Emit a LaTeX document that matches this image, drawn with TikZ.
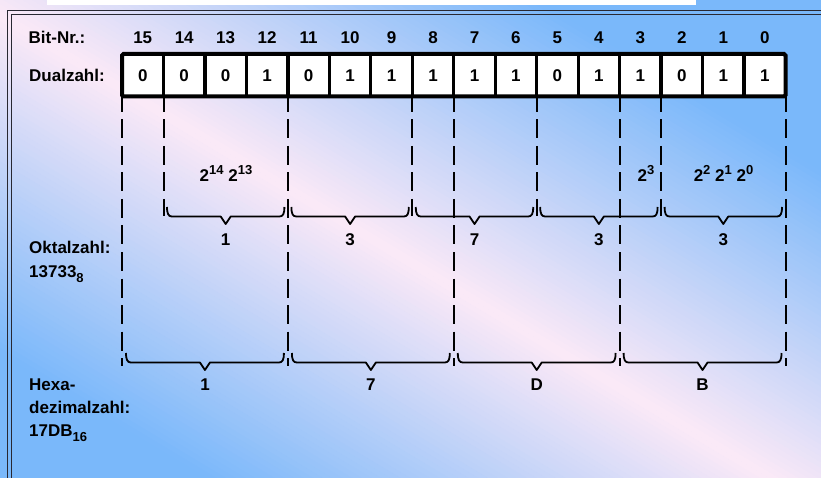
\documentclass[tikz,border=0pt]{standalone}
\usepackage{fontspec}
\setmainfont{Liberation Sans}
\definecolor{bgblue}{RGB}{122,184,250}
\definecolor{bgpink}{RGB}{251,233,247}
\definecolor{frameclr}{RGB}{40,40,50}
\newcommand\supx[1]{\raisebox{7.5pt}{\fontsize{13}{13}\selectfont #1}}
\newcommand\subx[1]{\raisebox{-5pt}{\fontsize{13}{13}\selectfont #1}}
\newcommand\bracepath[3]{%
  \draw[bracestyle] (#1,#3) .. controls (#1,{#3+7}) and ({#1+1.5},{#3+9.5}) .. ({#1+5},{#3+9.5})
    -- ({(#1+#2)/2-5},{#3+9.5}) -- ({(#1+#2)/2},{#3+17}) -- ({(#1+#2)/2+5},{#3+9.5})
    -- ({#2-5},{#3+9.5}) .. controls ({#2-1.5},{#3+9.5}) and (#2,{#3+7}) .. (#2,#3);}
\begin{document}
\begin{tikzpicture}[x=1pt,y=-1pt,
  lbl/.style={font=\fontsize{17}{20}\selectfont\bfseries, inner sep=0pt, text=black},
  frameline/.style={draw=frameclr, line width=1pt},
  dashline/.style={draw=black, line width=2pt, dash pattern=on 19pt off 7.5pt},
  sepline/.style={draw=black, line width=3.3pt},
  outerbox/.style={draw=black, line width=4pt, rounded corners=1.5pt},
  bracestyle/.style={draw=black, line width=1.8pt, line join=round}]
\useasboundingbox (0,0) rectangle (821,478);
% background: diagonal band gradient built from thin strips
\begin{scope}
  \clip (0,0) rectangle (821,478);
  \fill[bgblue] (0,0) rectangle (821,478);
  \begin{scope}[shift={(420,268)}, rotate=-31]
    \foreach \i in {-60,...,59} {
      \pgfmathsetmacro\pp{min(100,abs(\i*5+2.5)/290*100)}
      \fill[bgblue!\pp!bgpink] (-1200,{\i*5}) rectangle (1200,{\i*5+5.6});
    }
  \end{scope}
\end{scope}
\fill[white] (47,0) rectangle (696,5);
\draw[frameline] (7.5,478) -- (7.5,11) -- (821,11);
\draw[frameline] (11,478) -- (11,14.5) -- (821,14.5);
% dashed lines (hex boundaries)
\foreach \x in {122,287.9,453.8,619.6,785.5}
  \draw[dashline] (\x,93) -- (\x,366);
% dashed lines (octal-only boundaries)
\foreach \x in {163.5,412.3,536.7,661.1}
  \draw[dashline] (\x,93) -- (\x,216);
% register
\fill[white] (122,54) rectangle (785.5,96.5);
\foreach \k in {1,...,15}
  \draw[sepline] ({122+41.469*\k},54) -- ({122+41.469*\k},96.5);
\draw[outerbox] (122,54) rectangle (785.5,96.5);
\foreach \b [count=\k from 0] in {0,0,0,1,0,1,1,1,1,1,0,1,1,0,1,1}
  \node[lbl, anchor=base] (d\k) at ({122+41.469*(\k+0.5)},81.6) {\b};
\foreach \n [count=\k from 0] in {15,14,13,12,11,10,9,8,7,6,5,4,3,2,1,0}
  \node[lbl, anchor=base] (n\k) at ({122+41.469*(\k+0.5)},44) {\n};
% left labels
\node[lbl, anchor=base west] (bitnr) at (28.5,44) {Bit-Nr.:};
\node[lbl, anchor=base west] (dual) at (29,81.6) {Dualzahl:};
\node[lbl, anchor=base west] (okt) at (29,253) {Oktalzahl:};
\node[lbl, anchor=base west] (oktv) at (29,277) {13733\subx{8}};
\node[lbl, anchor=base west] (hexa) at (29,390) {Hexa-};
\node[lbl, anchor=base west] (dezi) at (29,413) {dezimalzahl:};
\node[lbl, anchor=base west] (hexv) at (29,436.5) {17DB\subx{16}};
% powers
\node[lbl, anchor=base] (p1) at (226,181.7) {2\supx{14} 2\supx{13}};
\node[lbl, anchor=base] (p2) at (646,181.7) {2\supx{3}};
\node[lbl, anchor=base] (p3) at (723.5,181.7) {2\supx{2} 2\supx{1} 2\supx{0}};
% octal braces
\bracepath{167}{284.4}{207}
\bracepath{291.4}{408.8}{207}
\bracepath{415.8}{533.2}{207}
\bracepath{540.2}{657.6}{207}
\bracepath{664.6}{782}{207}
\foreach \t/\x [count=\i] in {1/225.7,3/350.1,7/474.5,3/598.9,3/723.3}
  \node[lbl] (o\i) at (\x,239.5) {\t};
% hex braces
\bracepath{126}{283.9}{353}
\bracepath{291.9}{449.8}{353}
\bracepath{457.8}{615.6}{353}
\bracepath{623.6}{781.5}{353}
\foreach \t/\x [count=\i] in {1/205,7/370.9,D/536.7,B/702.6}
  \node[lbl] (h\i) at (\x,385) {\t};
\end{tikzpicture}
\end{document}
